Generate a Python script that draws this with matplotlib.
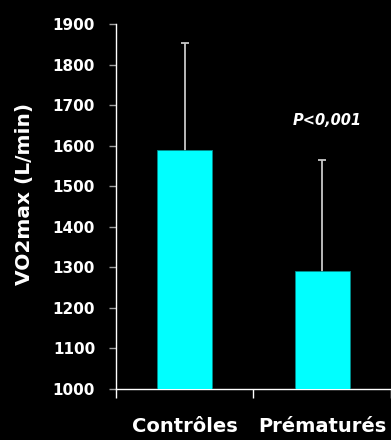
import matplotlib
matplotlib.use('Agg')
import matplotlib.pyplot as plt

# VO2max by group, mean and standard deviation
groups = ['Contrôles', 'Prématurés']
vo2max_mean = [1590, 1292]
vo2max_sd = [264, 272]
p_label = 'P<0,001'

plt.rcParams['font.family'] = ['DejaVu Sans']
plt.rcParams['font.weight'] = 'bold'

fig = plt.figure(figsize=(3.91, 4.40), dpi=100, facecolor='black')
ax = fig.add_axes([0.296, 0.116, 0.704, 0.8295])
ax.set_facecolor('black')

x = list(range(len(groups)))

# error bars drawn under the bars so only the upper half shows
ax.errorbar(x, vo2max_mean, yerr=vo2max_sd, fmt='none',
            ecolor='#c8c8c8', elinewidth=1.3, capsize=3.2, capthick=1.3,
            zorder=2)
ax.bar(x, vo2max_mean, width=0.4, color='#00ffff', edgecolor='#008b8b',
       linewidth=0.6, zorder=3)

ax.set_ylim(1000, 1900)
ax.set_yticks(range(1000, 1901, 100))
ax.set_xlim(-0.5, 1.5)

# category labels sit between the group separator ticks
ax.set_xticks([-0.5, 0.5, 1.5])
ax.set_xticklabels([])
ax.set_xticks(x, minor=True)
ax.set_xticklabels(groups, minor=True, fontsize=14, color='white',
                   fontweight='bold')
ax.tick_params(axis='x', which='major', direction='out', length=6.5,
               width=1, color='white')
ax.tick_params(axis='x', which='minor', length=0, pad=20)
ax.tick_params(axis='y', direction='out', length=4.8, width=1,
               color='#a0a0a0', labelcolor='white', labelsize=11, pad=10)

for side in ['top', 'right']:
    ax.spines[side].set_visible(False)
for side in ['left', 'bottom']:
    ax.spines[side].set_color('white')
    ax.spines[side].set_linewidth(1)

ax.set_ylabel('VO2max (L/min)', fontsize=14.5, color='white',
              fontweight='bold')
ax.yaxis.set_label_coords(-0.297, 0.534)

ax.text(1.035, 1663, p_label, ha='center', va='center', fontsize=10.5,
        color='white', fontweight='bold', fontstyle='italic')

fig.savefig('out.png', dpi=100, facecolor='black')
